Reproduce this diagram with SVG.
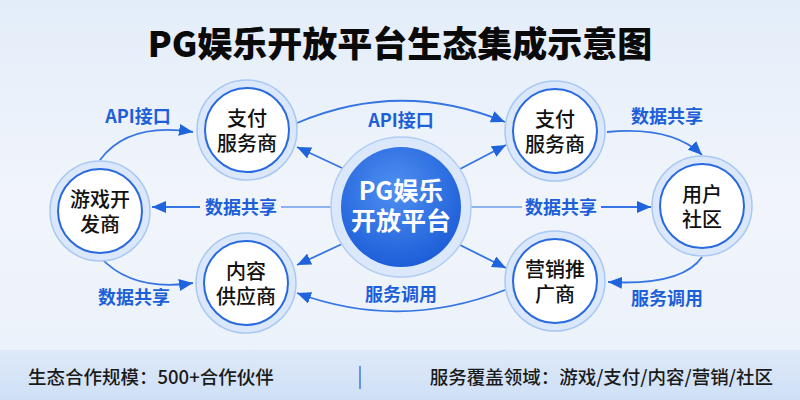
<svg xmlns="http://www.w3.org/2000/svg" width="800" height="400" viewBox="0 0 800 400">
  <defs>
    <linearGradient id="bg" x1="0" y1="0" x2="0" y2="1">
      <stop offset="0" stop-color="#e3edf9"/>
      <stop offset="0.5" stop-color="#f1f5fb"/>
      <stop offset="1" stop-color="#eaf1fa"/>
    </linearGradient>
    <linearGradient id="bar" x1="0" y1="0" x2="0" y2="1">
      <stop offset="0" stop-color="#dde9f8"/>
      <stop offset="1" stop-color="#cfe0f6"/>
    </linearGradient>
    <radialGradient id="core" cx="0.45" cy="0.35" r="0.7">
      <stop offset="0" stop-color="#4f90f2"/>
      <stop offset="1" stop-color="#1a5ad6"/>
    </radialGradient>
    <marker id="arr" markerUnits="userSpaceOnUse" markerWidth="14" markerHeight="12" viewBox="0 0 14 12" refX="14" refY="6" orient="auto">
      <path d="M0,0 L14,6 L0,12 Z" fill="#1f63dd"/>
    </marker>
    <style>
      .title{font-family:"Noto Sans CJK SC","Liberation Sans",sans-serif;font-size:35px;font-weight:900;fill:#0a0a0a;text-anchor:middle}
      .ring{fill:#dbe8fb;stroke:#a9c8f2;stroke-width:1.5}
      .inner{fill:#ffffff;stroke:#2a6ae0;stroke-width:2}
      .ntext{font-family:"Noto Sans CJK SC","Liberation Sans",sans-serif;font-size:20px;font-weight:500;fill:#111;text-anchor:middle}
      .ctext{font-family:"Noto Sans CJK SC","Liberation Sans",sans-serif;font-size:25px;font-weight:700;fill:#ffffff;text-anchor:middle}
      .lbl{font-family:"Noto Sans CJK SC","Liberation Sans",sans-serif;font-size:18px;font-weight:700;fill:#1c5fd8;text-anchor:middle}
      .conn{fill:none;stroke:#3474e4;stroke-width:1.8}
      .faint{fill:none;stroke:#8db3ee;stroke-width:1.8}
      .foot{font-family:"Noto Sans CJK SC","Liberation Sans",sans-serif;font-size:18.5px;font-weight:500;fill:#1a1a1a}
    </style>
  </defs>

  <rect x="0" y="0" width="800" height="400" fill="url(#bg)"/>
  <text class="title" x="400" y="57">PG娱乐开放平台生态集成示意图</text>

  <g id="connectors">
    <path class="conn" d="M100,160 Q128,122 193,132" marker-end="url(#arr)"/>
    <path class="conn" d="M100,257 Q132,292 193,283" marker-end="url(#arr)"/>
    <path class="conn" d="M297,123 Q400,79 505,122" marker-end="url(#arr)"/>
    <path class="conn" d="M607,132 Q672,126 702,155" marker-end="url(#arr)"/>
    <path class="conn" d="M702,257 Q682,286 608,282" marker-end="url(#arr)"/>
    <path class="conn" d="M505,290 Q400,331 297,293" marker-end="url(#arr)"/>
    <path class="conn" d="M342,168 L297,147" marker-end="url(#arr)"/>
    <path class="conn" d="M342,244 L297,265" marker-end="url(#arr)"/>
    <path class="conn" d="M460,169 L506,145" marker-end="url(#arr)"/>
    <path class="conn" d="M460,245 L506,268" marker-end="url(#arr)"/>
    <path class="faint" d="M331,207 L281,207"/>
    <path class="conn" d="M200,207 L152,207" marker-end="url(#arr)"/>
    <path class="faint" d="M471,207 L522,207"/>
    <path class="conn" d="M601,207 L651,207" marker-end="url(#arr)"/>
  </g>

  <g id="labels">
    <text class="lbl" x="138" y="123">API接口</text>
    <text class="lbl" x="401" y="127">API接口</text>
    <text class="lbl" x="667" y="123">数据共享</text>
    <text class="lbl" x="241" y="214">数据共享</text>
    <text class="lbl" x="561" y="214">数据共享</text>
    <text class="lbl" x="134" y="304">数据共享</text>
    <text class="lbl" x="401" y="301">服务调用</text>
    <text class="lbl" x="667" y="305">服务调用</text>
  </g>

  <g id="node-center">
    <circle cx="401" cy="207" r="70" fill="#dbe8fb" stroke="#b2cdf4" stroke-width="1.5"/>
    <circle cx="401" cy="207" r="60" fill="url(#core)"/>
    <text class="ctext" x="401" y="200">PG娱乐</text>
    <text class="ctext" x="401" y="230">开放平台</text>
  </g>

  <g id="node-pay-left">
    <circle class="ring" cx="247" cy="130" r="50"/>
    <circle class="inner" cx="247" cy="130" r="42"/>
    <text class="ntext" x="247" y="126">支付</text>
    <text class="ntext" x="247" y="151">服务商</text>
  </g>

  <g id="node-pay-right">
    <circle class="ring" cx="555" cy="131" r="50"/>
    <circle class="inner" cx="555" cy="131" r="42"/>
    <text class="ntext" x="555" y="127">支付</text>
    <text class="ntext" x="555" y="152">服务商</text>
  </g>

  <g id="node-game">
    <circle class="ring" cx="100" cy="211" r="50"/>
    <circle class="inner" cx="100" cy="211" r="42"/>
    <text class="ntext" x="100" y="207">游戏开</text>
    <text class="ntext" x="100" y="232">发商</text>
  </g>

  <g id="node-community">
    <circle class="ring" cx="702" cy="206" r="50"/>
    <circle class="inner" cx="702" cy="206" r="42"/>
    <text class="ntext" x="702" y="202">用户</text>
    <text class="ntext" x="702" y="227">社区</text>
  </g>

  <g id="node-content">
    <circle class="ring" cx="246" cy="283" r="50"/>
    <circle class="inner" cx="246" cy="283" r="42"/>
    <text class="ntext" x="246" y="279">内容</text>
    <text class="ntext" x="246" y="304">供应商</text>
  </g>

  <g id="node-marketing">
    <circle class="ring" cx="555" cy="281" r="50"/>
    <circle class="inner" cx="555" cy="281" r="42"/>
    <text class="ntext" x="555" y="277">营销推</text>
    <text class="ntext" x="555" y="302">广商</text>
  </g>

  <g id="footer">
    <rect x="0" y="350" width="800" height="50" fill="url(#bar)"/>
    <text class="foot" x="28" y="384">生态合作规模：500+合作伙伴</text>
    <line x1="360" y1="366" x2="360" y2="389" stroke="#3a78e6" stroke-width="1.5"/>
    <text class="foot" x="773" y="384" text-anchor="end">服务覆盖领域：游戏/支付/内容/营销/社区</text>
  </g>
</svg>
